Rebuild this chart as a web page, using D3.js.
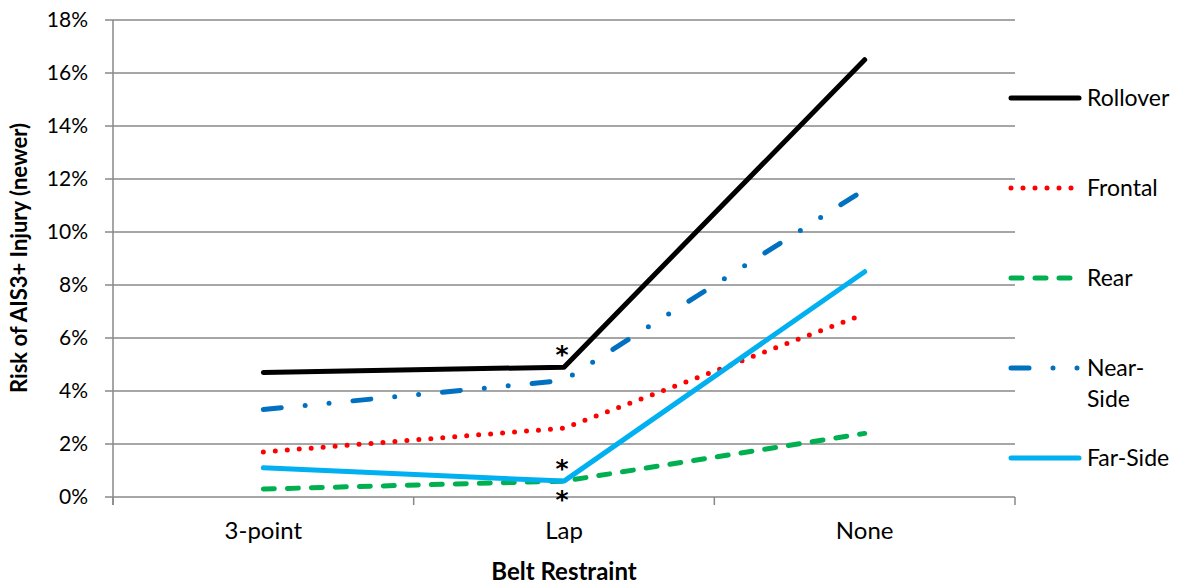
<!DOCTYPE html>
<html><head><meta charset="utf-8">
<script src="https://cdn.jsdelivr.net/npm/d3@7"></script>
<style>
body{margin:0;background:#fff;}
svg{display:block;font-family:Lato,"Open Sans",sans-serif;}
</style></head>
<body><svg id="c" width="1183" height="587"></svg>
<script>
const categories = ["3-point","Lap","None"];
const yTicks = [0,0.02,0.04,0.06,0.08,0.10,0.12,0.14,0.16,0.18];
const rollover = [0.047,0.049,0.165];
const frontal = [0.017,0.026,0.069];
const rear = [0.003,0.006,0.024];
const nearSide = [0.033,0.044,0.116];
const farSide = [0.011,0.006,0.085];
const seriesNames = ["Rollover","Frontal","Rear","Near-Side","Far-Side"];
const seriesValues = [rollover,frontal,rear,nearSide,farSide];
const seriesColors = ["#000000","#FF0000","#00B050","#0070C0","#00B0F0"];
const seriesDash = [null,"0,12","11,13","18,24,0,24,0,24",null];
// asterisk annotations: [series index, category index, direction]
const stars = [[0,1,-1],[4,1,-1],[2,1,1]];

const svg = d3.select("#c");
const L=113,R=1015,T=20,B=497;
const x = d3.scaleBand().domain(categories).range([L,R]);
const y = d3.scaleLinear().domain([0,0.18]).range([B,T]);
const cx = c => x(c)+x.bandwidth()/2;

// gridlines
svg.append("g").selectAll("line").data(yTicks).join("line")
  .attr("x1",L-8).attr("x2",R).attr("y1",d=>y(d)).attr("y2",d=>y(d))
  .attr("stroke","#888").attr("stroke-width",1.5);
// y axis
const ya = svg.append("g").attr("transform",`translate(${L},0)`)
  .call(d3.axisLeft(y).tickValues(yTicks).tickFormat(d3.format(".0%")).tickSize(0).tickPadding(25));
ya.select(".domain").remove();
ya.selectAll("text").attr("font-size",21).attr("fill","#000").attr("font-family","Lato,sans-serif");
svg.append("line").attr("x1",L).attr("x2",L).attr("y1",T).attr("y2",B+8).attr("stroke","#888").attr("stroke-width",1.5);
// x axis
const xa = svg.append("g").attr("transform",`translate(0,${B})`)
  .call(d3.axisBottom(x).tickSize(0).tickPadding(25));
xa.select(".domain").remove();
xa.selectAll("text").attr("font-size",24).attr("fill","#000").attr("font-family","Lato,sans-serif");
const bounds = categories.map(c=>x(c)).concat([R]);
svg.append("g").selectAll("line").data(bounds).join("line")
  .attr("x1",d=>d).attr("x2",d=>d).attr("y1",B).attr("y2",B+8)
  .attr("stroke","#888").attr("stroke-width",1.5);

// lines
const line = d3.line().x((d,i)=>cx(categories[i])).y(d=>y(d));
const order = [2,1,3,4,0];
order.forEach(k=>{
  svg.append("path").datum(seriesValues[k]).attr("d",line)
    .attr("fill","none").attr("stroke",seriesColors[k]).attr("stroke-width",5)
    .attr("stroke-linecap","round").attr("stroke-linejoin","round")
    .attr("stroke-dasharray",seriesDash[k]);
});

// asterisks
svg.append("g").selectAll("text").data(stars).join("text")
  .attr("x",d=>cx(categories[d[1]])-2)
  .attr("y",d=>y(seriesValues[d[0]][d[1]])+d[2]*15.5+11)
  .attr("text-anchor","middle").attr("font-size",25).attr("font-weight","bold")
  .attr("font-family","'DejaVu Sans',sans-serif").text("*");

// legend
const lg = svg.append("g");
seriesNames.forEach((n,i)=>{
  const ly = 98 + i*90;
  lg.append("line").attr("x1",1011).attr("x2",1079).attr("y1",ly).attr("y2",ly)
    .attr("stroke",seriesColors[i]).attr("stroke-width",5).attr("stroke-linecap","round")
    .attr("stroke-dasharray",seriesDash[i]);
  const t = lg.append("text").attr("x",1087).attr("y",ly+8).attr("font-size",23).attr("fill","#000");
  if(n==="Near-Side"){
    t.append("tspan").attr("x",1087).text("Near-");
    t.append("tspan").attr("x",1087).attr("dy",31).text("Side");
  } else t.text(n);
});

// titles
svg.append("text").attr("x",564).attr("y",580).attr("text-anchor","middle")
  .attr("font-size",24).attr("font-weight","bold").text("Belt Restraint");
svg.append("text").attr("transform","translate(27,258) rotate(-90)").attr("text-anchor","middle")
  .attr("font-size",22).attr("font-weight","bold").text("Risk of AIS3+ Injury (newer)");
</script></body></html>
